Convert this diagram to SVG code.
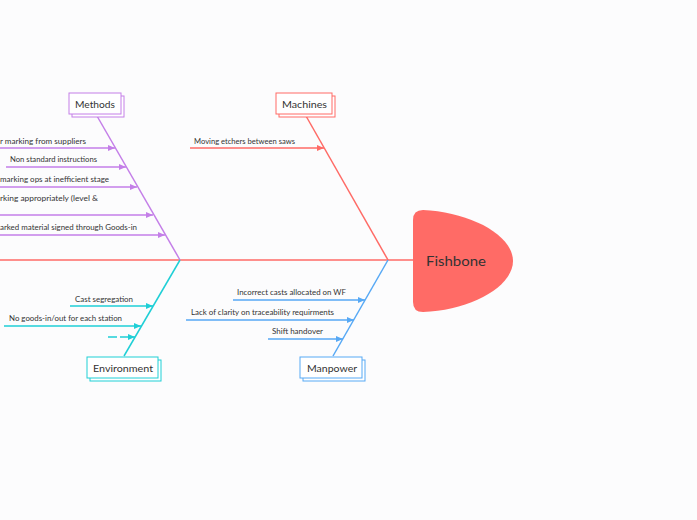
<svg xmlns="http://www.w3.org/2000/svg" width="697" height="520" viewBox="0 0 697 520">
<defs>
<style>
.t{font-family:"Lato","Noto Sans",sans-serif;font-size:7px;fill:#333}
.h{font-family:"Lato","Noto Sans",sans-serif;font-size:10px;fill:#333}
.m{stroke:#c47fe8}.r{stroke:#ff6b66}.c{stroke:#1fcfd6}.b{stroke:#57a9f5}
line{stroke-width:1.5;fill:none}
.bx{fill:#fff;stroke-width:1}
</style>
<marker id="am" markerWidth="8" markerHeight="8" refX="7" refY="4" orient="auto" markerUnits="userSpaceOnUse"><path d="M0,1 L7,4 L0,7 z" fill="#c47fe8"/></marker>
<marker id="ar" markerWidth="8" markerHeight="8" refX="7" refY="4" orient="auto" markerUnits="userSpaceOnUse"><path d="M0,1 L7,4 L0,7 z" fill="#ff6b66"/></marker>
<marker id="ac" markerWidth="8" markerHeight="8" refX="7" refY="4" orient="auto" markerUnits="userSpaceOnUse"><path d="M0,1 L7,4 L0,7 z" fill="#1fcfd6"/></marker>
<marker id="ab" markerWidth="8" markerHeight="8" refX="7" refY="4" orient="auto" markerUnits="userSpaceOnUse"><path d="M0,1 L7,4 L0,7 z" fill="#57a9f5"/></marker>
</defs>
<rect width="697" height="520" fill="#fcfcfd"/>
<g id="connectors">
<line class="r" x1="0" y1="260" x2="413" y2="260"/>
<line class="m" x1="97" y1="116" x2="180" y2="260"/>
<line class="r" x1="306" y1="116" x2="388" y2="260"/>
<line class="c" x1="180" y1="260" x2="124" y2="356"/>
<line class="b" x1="388" y1="260" x2="333" y2="356"/>
<line class="m" x1="0" y1="148" x2="115" y2="148" marker-end="url(#am)"/>
<line class="m" x1="6" y1="167" x2="126" y2="167" marker-end="url(#am)"/>
<line class="m" x1="0" y1="187" x2="137" y2="187" marker-end="url(#am)"/>
<line class="m" x1="0" y1="215" x2="153" y2="215" marker-end="url(#am)"/>
<line class="m" x1="0" y1="235" x2="165" y2="235" marker-end="url(#am)"/>
<line class="r" x1="190" y1="148" x2="324" y2="148" marker-end="url(#ar)"/>
<line class="c" x1="70" y1="306" x2="153" y2="306" marker-end="url(#ac)"/>
<line class="c" x1="4" y1="326" x2="141" y2="326" marker-end="url(#ac)"/>
<line class="c" x1="108" y1="337" x2="117" y2="337"/>
<line class="c" x1="120" y1="337" x2="135" y2="337" marker-end="url(#ac)"/>
<line class="b" x1="233" y1="300" x2="365" y2="300" marker-end="url(#ab)"/>
<line class="b" x1="186" y1="320" x2="354" y2="320" marker-end="url(#ab)"/>
<line class="b" x1="268" y1="339" x2="343" y2="339" marker-end="url(#ab)"/>
</g>
<g id="labels">
<text class="t" x="0" y="143.5" textLength="86" lengthAdjust="spacingAndGlyphs">r marking from suppliers</text>
<text class="t" x="10" y="162" textLength="87" lengthAdjust="spacingAndGlyphs">Non standard instructions</text>
<text class="t" x="0" y="182" textLength="109" lengthAdjust="spacingAndGlyphs">marking ops at inefficient stage</text>
<text class="t" x="0" y="201" textLength="98" lengthAdjust="spacingAndGlyphs">rking appropriately (level &amp;</text>
<text class="t" x="0" y="230" textLength="137" lengthAdjust="spacingAndGlyphs">arked material signed through Goods-in</text>
<text class="t" x="194" y="143.5" textLength="101" lengthAdjust="spacingAndGlyphs">Moving etchers between saws</text>
<text class="t" x="75" y="301.5" textLength="58" lengthAdjust="spacingAndGlyphs">Cast segregation</text>
<text class="t" x="9" y="321" textLength="113" lengthAdjust="spacingAndGlyphs">No goods-in/out for each station</text>
<text class="t" x="237" y="295" textLength="109" lengthAdjust="spacingAndGlyphs">Incorrect casts allocated on WF</text>
<text class="t" x="191" y="315" textLength="143" lengthAdjust="spacingAndGlyphs">Lack of clarity on traceability requirments</text>
<text class="t" x="272" y="334" textLength="51" lengthAdjust="spacingAndGlyphs">Shift handover</text>
</g>
<g id="head">
<path d="M423,210 C470,212 513,235 513,261 C513,287 470,310 423,312 Q413,312 413,302 L413,220 Q413,210 423,210 z" fill="#ff6b66"/>
<text x="426" y="266" textLength="60" lengthAdjust="spacingAndGlyphs" style="font-family:Lato,'Noto Sans',sans-serif;font-size:14px;fill:#333">Fishbone</text>
</g>
<g id="methods">
<rect class="bx m" x="72" y="96" width="52" height="21"/>
<rect class="bx m" x="69" y="93" width="52" height="21"/>
<text class="h" x="95" y="107.5" text-anchor="middle" textLength="40" lengthAdjust="spacingAndGlyphs">Methods</text>
</g>
<g id="machines">
<rect class="bx r" x="279" y="96" width="56" height="21" stroke="#ffaaaa"/>
<rect class="bx r" x="276" y="93" width="56" height="21"/>
<text class="h" x="304.5" y="107.5" text-anchor="middle" textLength="45" lengthAdjust="spacingAndGlyphs">Machines</text>
</g>
<g id="environment">
<rect class="bx c" x="90" y="360" width="71" height="21"/>
<rect class="bx c" x="87" y="357" width="71" height="21"/>
<text class="h" x="123" y="371.5" text-anchor="middle" textLength="60" lengthAdjust="spacingAndGlyphs">Environment</text>
</g>
<g id="manpower">
<rect class="bx b" x="303" y="360" width="62" height="21"/>
<rect class="bx b" x="300" y="357" width="62" height="21"/>
<text class="h" x="332" y="371.5" text-anchor="middle" textLength="50" lengthAdjust="spacingAndGlyphs">Manpower</text>
</g>
</svg>
